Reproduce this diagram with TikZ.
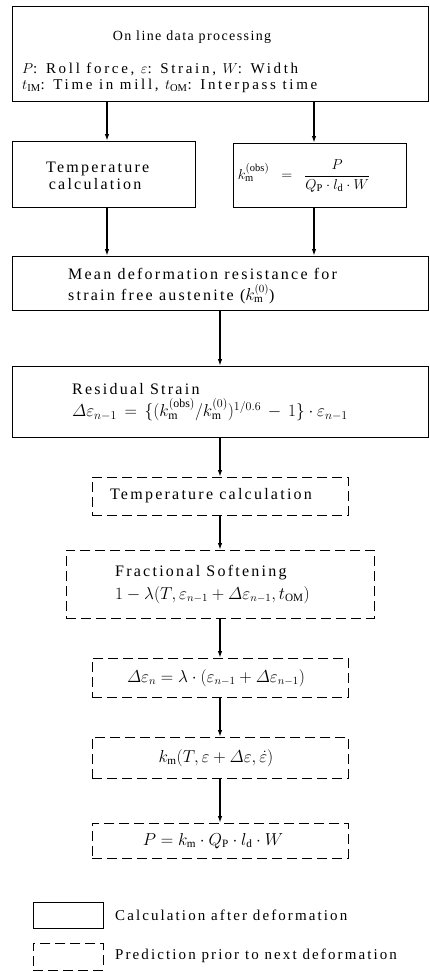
\documentclass[tikz,border=0pt]{standalone}
\usepackage{amsmath}
\usepackage{fontspec}
\setmainfont{Liberation Serif}
\newfontfamily\spA[LetterSpace=18]{Liberation Serif}
\newfontfamily\spB[LetterSpace=14]{Liberation Serif}
\newfontfamily\spC[LetterSpace=10]{Liberation Serif}
\usetikzlibrary{arrows.meta}
\begin{document}
\begin{tikzpicture}[x=1pt,y=-1pt,
  calcbox/.style={draw, line width=0.8pt, anchor=north west, inner sep=0pt},
  predbox/.style={draw, line width=0.8pt, dash pattern=on 10pt off 5pt, anchor=north west, inner sep=0pt},
  flow/.style={line width=1.6pt, -{Latex[length=7pt,width=4.5pt]}},
  toptxt/.style={inner sep=0pt, font=\fontsize{15}{18}\selectfont\spA},
  titletxt/.style={inner sep=0pt, font=\fontsize{14}{17}\selectfont\spC},
  bigtxt/.style={inner sep=0pt, font=\fontsize{16}{19}\selectfont\spB},
  legtxt/.style={inner sep=0pt, font=\fontsize{15}{18}\selectfont\spB},
  ]
\useasboundingbox (0,0) rectangle (429,972);
\fill[white] (0,0) rectangle (429,972);

% boxes
\node[calcbox, minimum width=416pt, minimum height=95pt] (online) at (12,6) {};
\node[calcbox, minimum width=183pt, minimum height=66pt] (temp) at (12,141) {};
\node[calcbox, minimum width=173pt, minimum height=64pt] (kobs) at (233,143) {};
\node[calcbox, minimum width=416pt, minimum height=54pt] (mean) at (12,256) {};
\node[calcbox, minimum width=416pt, minimum height=71pt] (resid) at (12,366) {};
\node[predbox, minimum width=256pt, minimum height=38pt] (tempb) at (92,477) {};
\node[predbox, minimum width=308pt, minimum height=68pt] (frac) at (66,550) {};
\node[predbox, minimum width=256pt, minimum height=39pt] (deps) at (92,658) {};
\node[predbox, minimum width=256pt, minimum height=41pt] (km) at (92,737) {};
\node[predbox, minimum width=256pt, minimum height=35pt] (pbox) at (92,823) {};
\node[calcbox, minimum width=70pt, minimum height=26pt] (legc) at (33,902) {};
\node[predbox, minimum width=70pt, minimum height=27pt] (legp) at (33,943) {};

% texts
\node[titletxt] (t1) at (192,37) {On line data processing};
\node[toptxt, anchor=west] (t2) at (22,69) {$P$: Roll force, $\varepsilon$: Strain, $W$: Width};
\node[toptxt, anchor=west] (t3) at (22,86) {$t_{\mathrm{IM}}$: Time in mill, $t_{\mathrm{OM}}$: Interpass time};
\node[bigtxt, anchor=west, align=left] (t4) at (46,176) {Temperature\\[-2pt]\,calculation};
\node[legtxt] (t5) at (304,176) {$k_{\mathrm m}^{(\mathrm{obs})}\;\;=\;\;\dfrac{P}{Q_{\mathrm P}\cdot l_{\mathrm d}\cdot W}$};
\node[bigtxt, anchor=west] (t6) at (68,274) {Mean deformation resistance for};
\node[bigtxt, anchor=west] (t6b) at (68,294) {strain free austenite ($k_{\mathrm m}^{(0)}$)};
\node[bigtxt, anchor=west] (t7) at (72,389) {Residual Strain};
\node[bigtxt, anchor=west, font=\fontsize{17}{20}\selectfont] (t8) at (72,410) {$\varDelta\varepsilon_{n-1}\,=\,\{(k_{\mathrm m}^{(\mathrm{obs})}/k_{\mathrm m}^{(0)})^{1/0.6}\,-\,1\}\cdot\varepsilon_{n-1}$};
\node[bigtxt] (t9) at (211,496) {Temperature calculation};
\node[bigtxt, anchor=west] (t10) at (115,573) {Fractional Softening};
\node[bigtxt, anchor=west] (t11) at (115,595) {$1-\lambda(T,\varepsilon_{n-1}+\varDelta\varepsilon_{n-1},t_{\mathrm{OM}})$};
\node[bigtxt] (t12) at (216,678) {$\varDelta\varepsilon_n=\lambda\cdot(\varepsilon_{n-1}+\varDelta\varepsilon_{n-1})$};
\node[bigtxt] (t13) at (216,758) {$k_{\mathrm m}(T,\varepsilon+\varDelta\varepsilon,\dot\varepsilon)$};
\node[bigtxt] (t14) at (213,841) {$P=k_{\mathrm m}\cdot Q_{\mathrm P}\cdot l_{\mathrm d}\cdot W$};
\node[legtxt, anchor=west] (t15) at (115,915) {Calculation after deformation};
\node[legtxt, anchor=west] (t16) at (115,956) {Prediction prior to next deformation};

% connectors
\coordinate (xl) at (107,0);
\coordinate (xr) at (314,0);
\coordinate (xc) at (220,0);
\draw[flow] (xl |- online.south) -- (xl |- temp.north);
\draw[flow] (xr |- online.south) -- (xr |- kobs.north);
\draw[flow] (xl |- temp.south) -- (xl |- mean.north);
\draw[flow] (xr |- kobs.south) -- (xr |- mean.north);
\draw[flow] (xc |- mean.south) -- (xc |- resid.north);
\draw[flow] (xc |- resid.south) -- (xc |- tempb.north);
\draw[flow] (xc |- tempb.south) -- (xc |- frac.north);
\draw[flow] (xc |- frac.south) -- (xc |- deps.north);
\draw[flow] (xc |- deps.south) -- (xc |- km.north);
\draw[flow] (xc |- km.south) -- (xc |- pbox.north);
\end{tikzpicture}
\end{document}
